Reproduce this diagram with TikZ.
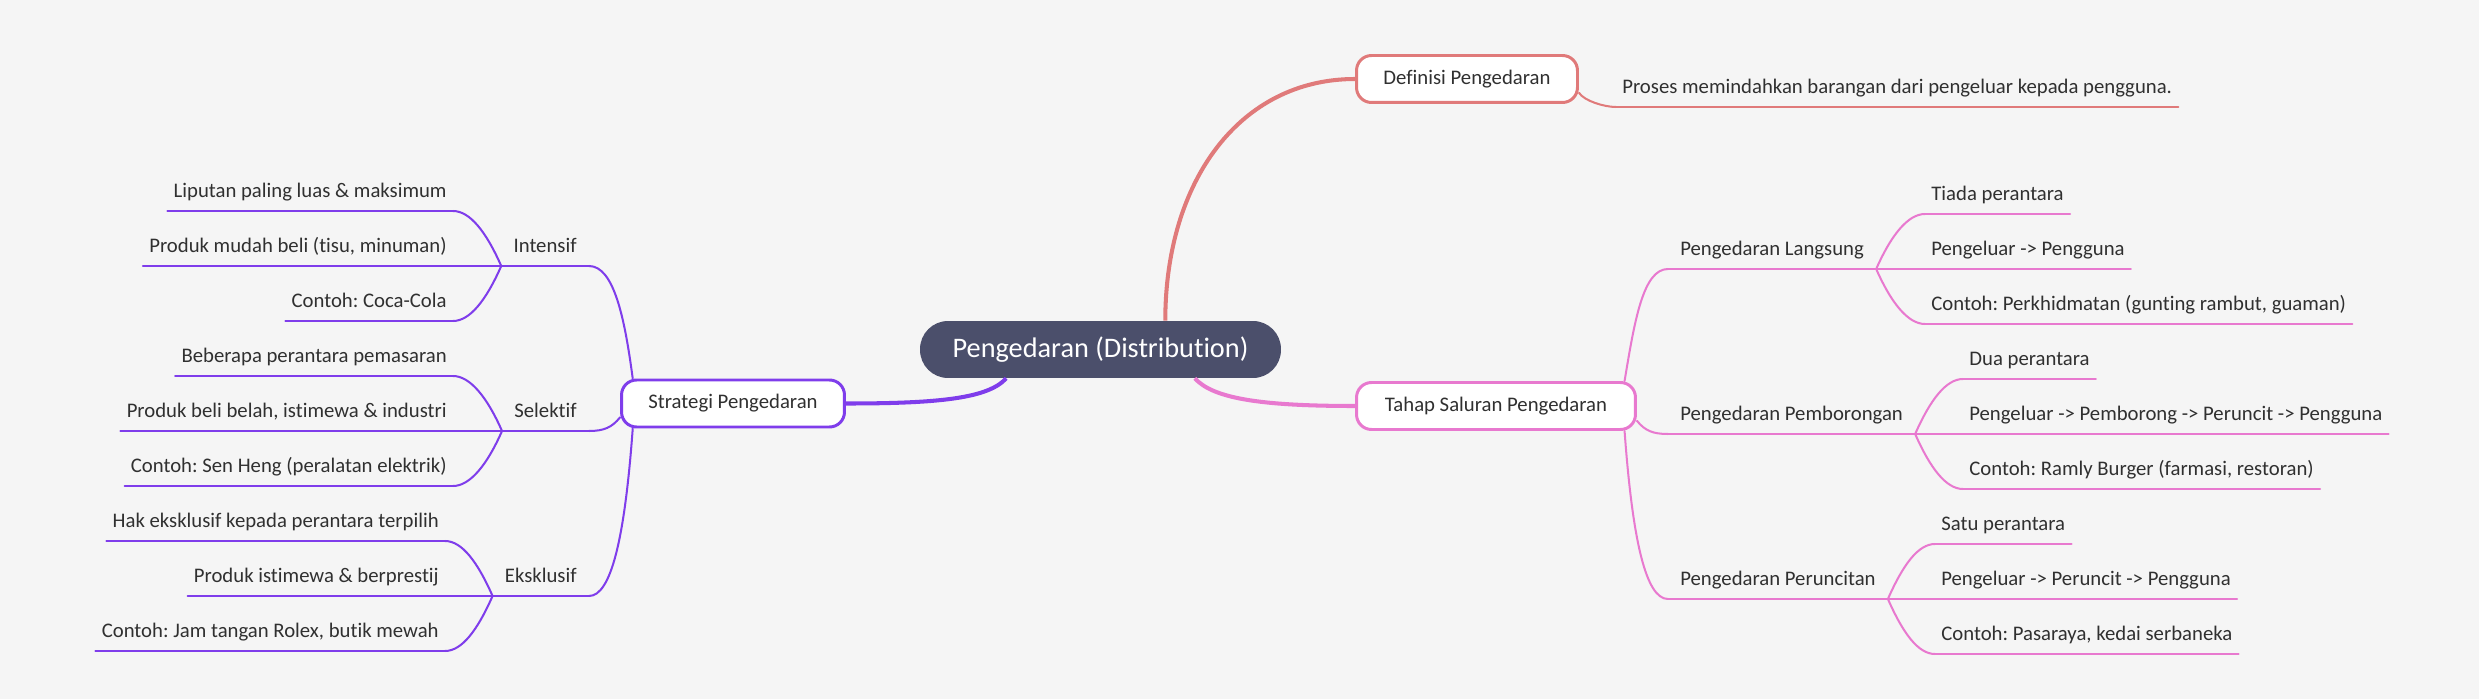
\documentclass[tikz,border=0pt]{standalone}
\usepackage{fontspec}
\setmainfont{Carlito}[Ligatures={TeX,NoCommon}]
\frenchspacing
\definecolor{bg}{HTML}{F5F5F5}
\definecolor{rootc}{HTML}{4B4F6B}
\definecolor{defc}{HTML}{E07A7A}
\definecolor{tahapc}{HTML}{E879CF}
\definecolor{stratc}{HTML}{7F3DEB}
\definecolor{txt}{HTML}{303030}
\begin{document}
\begin{tikzpicture}[x=0.02cm, y=-0.02cm, line cap=round, line join=round,
    root/.style={fill=rootc, text=white, rounded corners=0.56cm, minimum width=7.22cm, minimum height=1.14cm, inner sep=0pt, font=\fontsize{16.1}{19}\selectfont},
    topic/.style={draw=#1, line width=1.7pt, fill=white, rounded corners=0.3cm, minimum height=0.94cm, inner sep=0pt, text=txt, font=\fontsize{11.8}{14}\selectfont},
    leaf/.style={text=txt, inner xsep=0.12cm, inner ysep=0.26cm, text depth=0pt, font=\fontsize{11.8}{14}\selectfont},
    sub/.style={leaf, inner xsep=0.24cm},
    branch/.style={draw=#1, line width=2.3pt, line cap=butt},
    twig/.style={draw=#1, line width=1.15pt}]

    \path[use as bounding box, fill=bg] (0,0) rectangle (2479,699);

    % main topics
    \node[root] (root) at (1100.5,349.5) {Pengedaran (Distribution)};
    \node[topic=defc, minimum width=4.42cm] (def) at (1467,79) {Definisi Pengedaran};
    \node[topic=tahapc, minimum width=5.58cm] (tahap) at (1496,406) {Tahap Saluran Pengedaran};
    \node[topic=stratc, minimum width=4.46cm] (strat) at (733,403.5) {Strategi Pengedaran};

    \draw[branch=defc] (root.24) .. controls +(0,-140) and +(-115,0) .. (def.west);
    \draw[branch=tahapc] (root.-17) .. controls +(18,20) and +(-95,0) .. (tahap.west);
    \draw[branch=stratc] (root.197) .. controls +(-18,20) and +(93,0) .. (strat.east);

    % definisi
    \node[leaf, anchor=south west] (proses) at (1616,107) {Proses memindahkan barangan dari pengeluar kepada pengguna.};
    \draw[twig=defc] (def.-7) .. controls +(5,8) and +(-12,0) .. (proses.south west);
    \draw[twig=defc] (proses.south west) -- (proses.south east);

    % strategi (left)
    \node[sub, anchor=south east] (intensif) at (589,266) {Intensif};
    \node[sub, anchor=south east] (selektif) at (589,431) {Selektif};
    \node[sub, anchor=south east] (eksklusif) at (589,596) {Eksklusif};

    \node[leaf, anchor=south east] (l1) at (453,211) {Liputan paling luas \& maksimum};
    \node[leaf, anchor=south east] (l2) at (453,266) {Produk mudah beli (tisu, minuman)};
    \node[leaf, anchor=south east] (l3) at (453,321) {Contoh: Coca-Cola};
    \node[leaf, anchor=south east] (l4) at (453,376) {Beberapa perantara pemasaran};
    \node[leaf, anchor=south east] (l5) at (453,431) {Produk beli belah, istimewa \& industri};
    \node[leaf, anchor=south east] (l6) at (453,486) {Contoh: Sen Heng (peralatan elektrik)};
    \node[leaf, anchor=south east] (l7) at (445,541) {Hak eksklusif kepada perantara terpilih};
    \node[leaf, anchor=south east] (l8) at (445,596) {Produk istimewa \& berprestij};
    \node[leaf, anchor=south east] (l9) at (445,651) {Contoh: Jam tangan Rolex, butik mewah};

    \draw[twig=stratc] (strat.166) .. controls +(-8,-60) and +(25,0) .. (intensif.south east);
    \draw[twig=stratc] (strat.187) .. controls +(-8,10) and +(15,0) .. (selektif.south east);
    \draw[twig=stratc] (strat.194) .. controls +(-8,110) and +(22,0) .. (eksklusif.south east);

    \foreach \n in {intensif,selektif,eksklusif,l1,l2,l3,l4,l5,l6,l7,l8,l9}
        \draw[twig=stratc] (\n.south west) -- (\n.south east);
    \foreach \p/\c/\s in {intensif/l1/-1, intensif/l3/1, selektif/l4/-1, selektif/l6/1, eksklusif/l7/-1, eksklusif/l9/1}
        \draw[twig=stratc] (\p.south west) .. controls +(-15,\s*34) and +(17,0) .. (\c.south east);
    \draw[twig=stratc] (intensif.south west) -- (l2.south east);
    \draw[twig=stratc] (selektif.south west) -- (l5.south east);
    \draw[twig=stratc] (eksklusif.south west) -- (l8.south east);

    % tahap saluran (right)
    \node[sub, anchor=south west] (lang) at (1668,269) {Pengedaran Langsung};
    \node[sub, anchor=south west] (borong) at (1668,434) {Pengedaran Pemborongan};
    \node[sub, anchor=south west] (runcit) at (1668,599) {Pengedaran Peruncitan};

    \node[leaf, anchor=south west] (r1) at (1925,214) {Tiada perantara};
    \node[leaf, anchor=south west] (r2) at (1925,269) {Pengeluar -> Pengguna};
    \node[leaf, anchor=south west] (r3) at (1925,324) {Contoh: Perkhidmatan (gunting rambut, guaman)};
    \node[leaf, anchor=south west] (r4) at (1963,379) {Dua perantara};
    \node[leaf, anchor=south west] (r5) at (1963,434) {Pengeluar -> Pemborong -> Peruncit -> Pengguna};
    \node[leaf, anchor=south west] (r6) at (1963,489) {Contoh: Ramly Burger (farmasi, restoran)};
    \node[leaf, anchor=south west] (r7) at (1935,544) {Satu perantara};
    \node[leaf, anchor=south west] (r8) at (1935,599) {Pengeluar -> Peruncit -> Pengguna};
    \node[leaf, anchor=south west] (r9) at (1935,654) {Contoh: Pasaraya, kedai serbaneka};

    \draw[twig=tahapc] (tahap.11) .. controls +(10,-60) and +(-25,0) .. (lang.south west);
    \draw[twig=tahapc] (tahap.-6) .. controls +(8,10) and +(-15,0) .. (borong.south west);
    \draw[twig=tahapc] (tahap.-11) .. controls +(8,110) and +(-22,0) .. (runcit.south west);

    \foreach \n in {lang,borong,runcit,r1,r2,r3,r4,r5,r6,r7,r8,r9}
        \draw[twig=tahapc] (\n.south west) -- (\n.south east);
    \foreach \p/\c/\s in {lang/r1/-1, lang/r3/1, borong/r4/-1, borong/r6/1, runcit/r7/-1, runcit/r9/1}
        \draw[twig=tahapc] (\p.south east) .. controls +(15,\s*34) and +(-17,0) .. (\c.south west);
    \draw[twig=tahapc] (lang.south east) -- (r2.south west);
    \draw[twig=tahapc] (borong.south east) -- (r5.south west);
    \draw[twig=tahapc] (runcit.south east) -- (r8.south west);
\end{tikzpicture}
\end{document}
